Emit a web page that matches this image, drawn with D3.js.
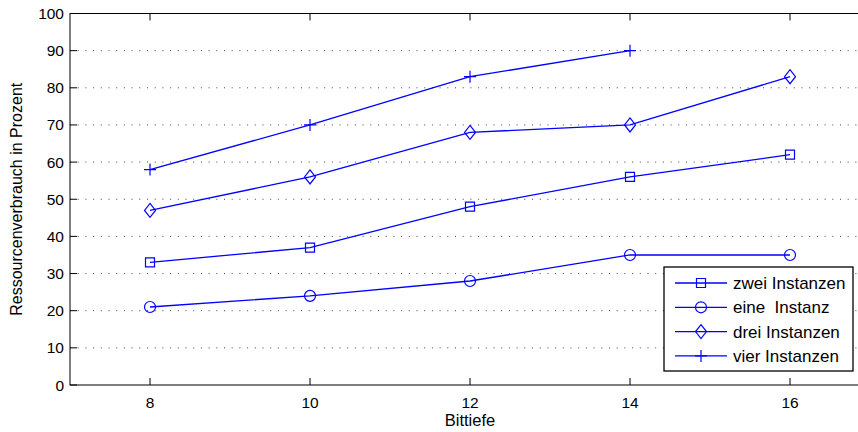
<!DOCTYPE html>
<html>
<head>
<meta charset="utf-8">
<script src="https://d3js.org/d3.v7.min.js"></script>
<style>
  body { margin: 0; background: #fff; }
  text { font-family: "Liberation Sans", Arial, sans-serif; fill: #000; }
</style>
</head>
<body>
<div id="chart"></div>
<script>
  // Series values
  const bits = [8, 10, 12, 14, 16];
  const zwei = [33, 37, 48, 56, 62];
  const eine = [21, 24, 28, 35, 35];
  const drei = [47, 56, 68, 70, 83];
  const vier = [58, 70, 83, 90];
  const xTicks = [8, 10, 12, 14, 16];
  const yTicks = [0, 10, 20, 30, 40, 50, 60, 70, 80, 90, 100];

  const series = [
    {name: "zwei Instanzen", values: zwei, marker: "square"},
    {name: "eine  Instanz", values: eine, marker: "circle"},
    {name: "drei Instanzen", values: drei, marker: "diamond"},
    {name: "vier Instanzen", values: vier, marker: "plus"}
  ];

  const W = 858, H = 432;
  const plot = {left: 70, top: 13.5, right: 870, bottom: 385};
  const blue = "#0000ff";

  const svg = d3.select("#chart").append("svg")
    .attr("width", W).attr("height", H);

  const x = d3.scaleLinear().domain([7, 17]).range([plot.left, plot.right]);
  const y = d3.scaleLinear().domain([0, 100]).range([plot.bottom, plot.top]);

  // dotted horizontal grid
  svg.append("g").selectAll("line")
    .data(yTicks.filter(d => d > 0 && d < 100))
    .enter().append("line")
    .attr("x1", plot.left).attr("x2", plot.right)
    .attr("y1", d => y(d)).attr("y2", d => y(d))
    .attr("stroke", "#444").attr("stroke-width", 1)
    .attr("stroke-dasharray", "1,6.7");

  // box
  svg.append("rect")
    .attr("x", plot.left).attr("y", plot.top)
    .attr("width", plot.right - plot.left).attr("height", plot.bottom - plot.top)
    .attr("fill", "none").attr("stroke", "#000").attr("stroke-width", 1);

  // ticks pointing inward
  const tickLen = 7;
  const axes = svg.append("g").attr("stroke", "#000").attr("stroke-width", 1);
  xTicks.forEach(t => {
    axes.append("line").attr("x1", x(t)).attr("x2", x(t))
      .attr("y1", plot.bottom).attr("y2", plot.bottom - tickLen);
    axes.append("line").attr("x1", x(t)).attr("x2", x(t))
      .attr("y1", plot.top).attr("y2", plot.top + tickLen);
  });
  yTicks.forEach(t => {
    axes.append("line").attr("x1", plot.left).attr("x2", plot.left + tickLen)
      .attr("y1", y(t)).attr("y2", y(t));
  });

  svg.append("g").selectAll("text")
    .data(xTicks).enter().append("text")
    .attr("x", d => x(d)).attr("y", plot.bottom + 23)
    .attr("text-anchor", "middle").attr("font-size", 15.5)
    .text(d => d);

  svg.append("g").selectAll("text")
    .data(yTicks).enter().append("text")
    .attr("x", plot.left - 6).attr("y", d => y(d) + 5.5)
    .attr("text-anchor", "end").attr("font-size", 15.5)
    .text(d => d);

  svg.append("text")
    .attr("x", (plot.left + plot.right) / 2).attr("y", 426)
    .attr("text-anchor", "middle").attr("font-size", 16.5)
    .text("Bittiefe");

  svg.append("text")
    .attr("transform", "translate(22," + ((plot.top + plot.bottom) / 2) + ") rotate(-90)")
    .attr("text-anchor", "middle").attr("font-size", 16)
    .text("Ressourcenverbrauch in Prozent");

  function drawMarker(g, type, cx, cy) {
    if (type === "circle") {
      g.append("circle").attr("cx", cx).attr("cy", cy).attr("r", 5.5)
        .attr("fill", "none").attr("stroke", blue).attr("stroke-width", 1.2);
      return;
    }
    const m = g.append("path")
      .attr("fill", "none").attr("stroke", blue).attr("stroke-width", 1.2);
    if (type === "square") {
      m.attr("d", `M${cx-4.5},${cy-4.5}h9v9h-9Z`);
    } else if (type === "diamond") {
      m.attr("d", `M${cx},${cy-7}L${cx+5.5},${cy}L${cx},${cy+7}L${cx-5.5},${cy}Z`);
    } else {
      m.attr("d", `M${cx-6},${cy}h12M${cx},${cy-6}v12`);
    }
  }

  const line = d3.line().x(d => x(d[0])).y(d => y(d[1]));

  series.forEach(s => {
    const pts = s.values.map((v, i) => [bits[i], v]);
    const g = svg.append("g");
    g.append("path").datum(pts)
      .attr("d", line)
      .attr("fill", "none").attr("stroke", blue).attr("stroke-width", 1.3);
    pts.forEach(p => drawMarker(g, s.marker, x(p[0]), y(p[1])));
  });

  // legend
  const lg = svg.append("g");
  lg.append("rect")
    .attr("x", 664).attr("y", 267).attr("width", 189).attr("height", 104)
    .attr("fill", "#fff").attr("stroke", "#000").attr("stroke-width", 1.3);
  series.forEach((s, i) => {
    const ly = 283 + i * 24.3;
    lg.append("line").attr("x1", 675).attr("x2", 727)
      .attr("y1", ly).attr("y2", ly)
      .attr("stroke", blue).attr("stroke-width", 1.3);
    drawMarker(lg, s.marker, 701, ly);
    lg.append("text").attr("x", 733).attr("y", ly + 6)
      .attr("font-size", 17).style("white-space", "pre")
      .text(s.name);
  });
</script>
</body>
</html>
